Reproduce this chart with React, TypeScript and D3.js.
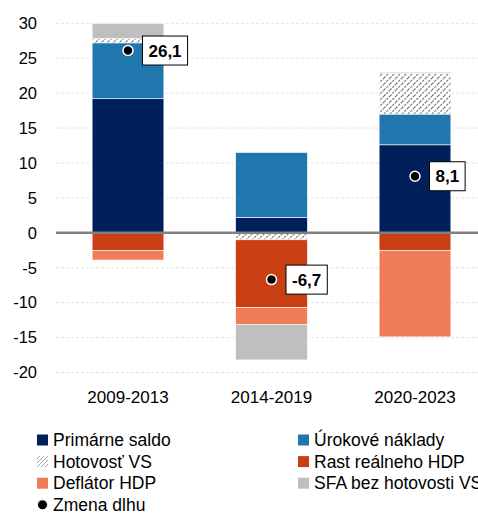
import React from "react";
import * as d3 from "d3";

const categories = ["2009-2013", "2014-2019", "2020-2023"];
const primarne = [19.2, 2.2, 12.6];
const urokove = [8.0, 9.3, 4.4];
const hotovost = [0.6, -1.0, 5.8];
const rast = [-2.5, -9.7, -2.5];
const deflator = [-1.4, -2.4, -12.4];
const sfa = [2.2, -5.1, 0.2];
const zmena = [26.1, -6.7, 8.1];
const zmenaLabels = ["26,1", "-6,7", "8,1"];
const yTicks = [-20, -15, -10, -5, 0, 5, 10, 15, 20, 25, 30];

const seriesDefs = [
  { key: "primarne", name: "Primárne saldo", color: "#00205B", values: primarne },
  { key: "urokove", name: "Úrokové náklady", color: "#1F77AE", values: urokove },
  { key: "hotovost", name: "Hotovosť VS", color: "url(#hatch)", values: hotovost },
  { key: "rast", name: "Rast reálneho HDP", color: "#C93E12", values: rast },
  { key: "deflator", name: "Deflátor HDP", color: "#F17C5A", values: deflator },
  { key: "sfa", name: "SFA bez hotovosti VS", color: "#BFBFBF", values: sfa },
];

const legendOrder = ["primarne", "urokove", "hotovost", "rast", "deflator", "sfa"];

const W = 478;
const H = 515;
const FONT = "'Liberation Sans', Arial, sans-serif";

function labelWidth(s: string, fs: number) {
  let w = 0;
  for (const ch of s) {
    if (ch === ",") w += 0.278;
    else if (ch === "-") w += 0.333;
    else w += 0.556;
  }
  return w * fs;
}

export default function App() {
  const x = d3
    .scaleBand<string>()
    .domain(categories)
    .range([56.25, 486.75])
    .paddingInner(0.5)
    .paddingOuter(0.25);
  const y = d3.scaleLinear().domain([-20, 30]).range([372.5, 23.3]);

  const table = categories.map((c, i) => {
    const row: Record<string, any> = { cat: c };
    seriesDefs.forEach((s) => (row[s.key] = s.values[i]));
    return row;
  });
  const stacked = d3
    .stack<Record<string, any>>()
    .keys(seriesDefs.map((s) => s.key))
    .offset(d3.stackOffsetDiverging)(table);

  const legendItems = legendOrder.map((k) => seriesDefs.find((s) => s.key === k)!);

  return (
    <svg
      width={W}
      height={H}
      style={{ position: "absolute", left: 0, top: 0, background: "#fff" }}
      fontFamily={FONT}
    >
      <defs>
        <pattern id="hatch" patternUnits="userSpaceOnUse" width="6" height="6">
          <rect width="6" height="6" fill="#fff" />
          <path d="M0,6 L6,0 M-1.5,1.5 L1.5,-1.5 M4.5,7.5 L7.5,4.5" stroke="#7F7F7F" strokeWidth="1.3" strokeDasharray="2.2,1.2" />
        </pattern>
        <pattern id="hatchL" patternUnits="userSpaceOnUse" width="4" height="4">
          <rect width="4" height="4" fill="#fff" />
          <path d="M0,4 L4,0 M-1,1 L1,-1 M3,5 L5,3" stroke="#A6A6A6" strokeWidth="1" />
        </pattern>
      </defs>

      {/* gridlines */}
      {yTicks
        .filter((t) => t !== 0)
        .map((t) => (
          <line
            key={t}
            x1={56}
            x2={W}
            y1={y(t)}
            y2={y(t)}
            stroke="#E3E3E3"
            strokeWidth={1}
            strokeDasharray="3,2"
          />
        ))}

      {/* bars */}
      {stacked.map((layer, si) =>
        layer.map((d, i) => {
          const y0 = Math.min(y(d[0]), y(d[1]));
          const h = Math.abs(y(d[0]) - y(d[1]));
          if (h < 0.01) return null;
          return (
            <rect
              key={`${si}-${i}`}
              x={x(categories[i])}
              y={y0}
              width={x.bandwidth()}
              height={h}
              fill={seriesDefs[si].color}
              stroke="#fff"
              strokeWidth={0.6}
            />
          );
        })
      )}

      {/* zero line */}
      <line x1={56} x2={W} y1={y(0)} y2={y(0)} stroke="#808080" strokeWidth={2.5} />

      {/* y tick labels */}
      {yTicks.map((t) => (
        <text key={t} x={37} y={y(t)} dy="0.35em" textAnchor="end" fontSize={16.5} fill="#000">
          {t}
        </text>
      ))}

      {/* category labels */}
      {categories.map((c) => (
        <text
          key={c}
          x={x(c)! + x.bandwidth() / 2}
          y={397.5}
          dy="0.35em"
          textAnchor="middle"
          fontSize={17}
          fill="#000"
        >
          {c}
        </text>
      ))}

      {/* zmena dlhu markers & labels */}
      {categories.map((c, i) => {
        const cx = x(c)! + x.bandwidth() / 2;
        const cy = y(zmena[i]);
        const label = zmenaLabels[i];
        const bw = labelWidth(label, 17) + 12;
        return (
          <g key={c}>
            <circle cx={cx} cy={cy} r={5} fill="#000" stroke="#fff" strokeWidth={1.5} />
            <rect x={cx + 14.5} y={cy - 14.5} width={bw} height={29} fill="#fff" stroke="#000" strokeWidth={1} />
            <text
              x={cx + 14.5 + bw / 2}
              y={cy}
              dy="0.36em"
              textAnchor="middle"
              fontSize={17}
              fontWeight="bold"
              fill="#000"
            >
              {label}
            </text>
          </g>
        );
      })}

      {/* legend */}
      {legendItems.map((s, i) => {
        const col = i % 2;
        const row = Math.floor(i / 2);
        const mx = col === 0 ? 37 : 298;
        const cy = 440 + row * 21.6;
        return (
          <g key={s.key}>
            <rect
              x={mx}
              y={cy - 5.5}
              width={11}
              height={11}
              fill={s.key === "hotovost" ? "url(#hatchL)" : s.color}
            />
            <text x={mx + 16} y={cy} dy="0.35em" fontSize={17.5} fill="#000">
              {s.name}
            </text>
          </g>
        );
      })}
      <g>
        <circle cx={42.5} cy={440 + 3 * 21.6} r={5} fill="#000" stroke="#fff" strokeWidth={1} />
        <text x={53} y={440 + 3 * 21.6} dy="0.35em" fontSize={17.5} fill="#000">
          Zmena dlhu
        </text>
      </g>
    </svg>
  );
}
